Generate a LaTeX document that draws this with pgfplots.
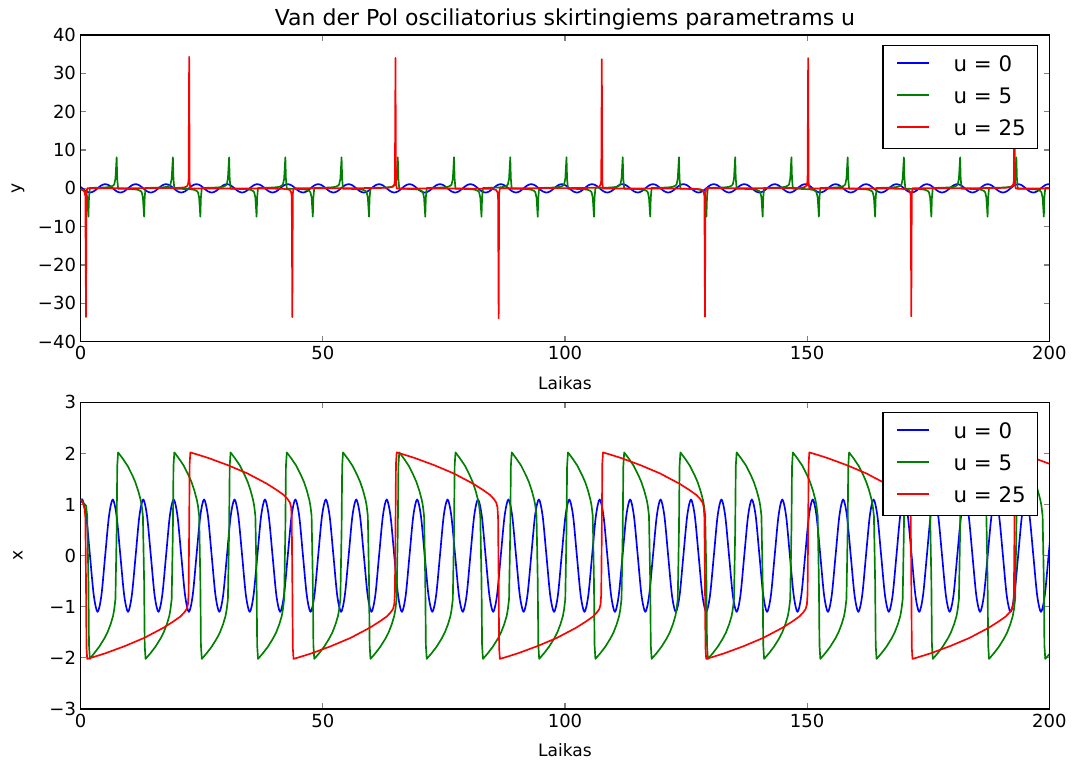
\documentclass[border=0pt]{standalone}
\usepackage{fontspec}
\setmainfont{DejaVu Sans}
\usepackage{pgfplots}
\usepackage{pgfplotstable}
\pgfplotsset{compat=1.18}

\definecolor{mplblue}{rgb}{0,0,1}
\definecolor{mplgreen}{rgb}{0,0.5,0}
\definecolor{mplred}{rgb}{1,0,0}

% u = 0: columns t, x, y
\pgfplotstableread[row sep=\\]{
t x y\\
0 1.033 0.377\\
0.35 1.1 0\\ 1.14 0.778 -0.778\\ 1.92 0 -1.1\\ 2.71 -0.778 -0.778\\ 3.49 -1.1 0\\ 4.28 -0.778 0.778\\ 5.06 0 1.1\\ 5.85 0.778 0.778\\
6.63 1.1 0\\ 7.42 0.778 -0.778\\ 8.20 0 -1.1\\ 8.99 -0.778 -0.778\\ 9.78 -1.1 0\\ 10.56 -0.778 0.778\\ 11.35 0 1.1\\ 12.13 0.778 0.778\\
12.92 1.1 0\\ 13.70 0.778 -0.778\\ 14.49 0 -1.1\\ 15.27 -0.778 -0.778\\ 16.06 -1.1 0\\ 16.84 -0.778 0.778\\ 17.63 0 1.1\\ 18.41 0.778 0.778\\
19.20 1.1 0\\ 19.99 0.778 -0.778\\ 20.77 0 -1.1\\ 21.56 -0.778 -0.778\\ 22.34 -1.1 0\\ 23.13 -0.778 0.778\\ 23.91 0 1.1\\ 24.70 0.778 0.778\\
25.48 1.1 0\\ 26.27 0.778 -0.778\\ 27.05 0 -1.1\\ 27.84 -0.778 -0.778\\ 28.63 -1.1 0\\ 29.41 -0.778 0.778\\ 30.20 0 1.1\\ 30.98 0.778 0.778\\
31.77 1.1 0\\ 32.55 0.778 -0.778\\ 33.34 0 -1.1\\ 34.12 -0.778 -0.778\\ 34.91 -1.1 0\\ 35.69 -0.778 0.778\\ 36.48 0 1.1\\ 37.26 0.778 0.778\\
38.05 1.1 0\\ 38.83 0.778 -0.778\\ 39.62 0 -1.1\\ 40.41 -0.778 -0.778\\ 41.19 -1.1 0\\ 41.98 -0.778 0.778\\ 42.76 0 1.1\\ 43.55 0.778 0.778\\
44.33 1.1 0\\ 45.12 0.778 -0.778\\ 45.90 0 -1.1\\ 46.69 -0.778 -0.778\\ 47.47 -1.1 0\\ 48.26 -0.778 0.778\\ 49.04 0 1.1\\ 49.83 0.778 0.778\\
50.62 1.1 0\\ 51.40 0.778 -0.778\\ 52.19 0 -1.1\\ 52.97 -0.778 -0.778\\ 53.76 -1.1 0\\ 54.54 -0.778 0.778\\ 55.33 0 1.1\\ 56.11 0.778 0.778\\
56.90 1.1 0\\ 57.68 0.778 -0.778\\ 58.47 0 -1.1\\ 59.26 -0.778 -0.778\\ 60.04 -1.1 0\\ 60.83 -0.778 0.778\\ 61.61 0 1.1\\ 62.40 0.778 0.778\\
63.18 1.1 0\\ 63.97 0.778 -0.778\\ 64.75 0 -1.1\\ 65.54 -0.778 -0.778\\ 66.32 -1.1 0\\ 67.11 -0.778 0.778\\ 67.89 0 1.1\\ 68.68 0.778 0.778\\
69.47 1.1 0\\ 70.25 0.778 -0.778\\ 71.04 0 -1.1\\ 71.82 -0.778 -0.778\\ 72.61 -1.1 0\\ 73.39 -0.778 0.778\\ 74.18 0 1.1\\ 74.96 0.778 0.778\\
75.75 1.1 0\\ 76.53 0.778 -0.778\\ 77.32 0 -1.1\\ 78.10 -0.778 -0.778\\ 78.89 -1.1 0\\ 79.68 -0.778 0.778\\ 80.46 0 1.1\\ 81.25 0.778 0.778\\
82.03 1.1 0\\ 82.82 0.778 -0.778\\ 83.60 0 -1.1\\ 84.39 -0.778 -0.778\\ 85.17 -1.1 0\\ 85.96 -0.778 0.778\\ 86.74 0 1.1\\ 87.53 0.778 0.778\\
88.32 1.1 0\\ 89.10 0.778 -0.778\\ 89.89 0 -1.1\\ 90.67 -0.778 -0.778\\ 91.46 -1.1 0\\ 92.24 -0.778 0.778\\ 93.03 0 1.1\\ 93.81 0.778 0.778\\
94.60 1.1 0\\ 95.38 0.778 -0.778\\ 96.17 0 -1.1\\ 96.95 -0.778 -0.778\\ 97.74 -1.1 0\\ 98.53 -0.778 0.778\\ 99.31 0 1.1\\ 100.10 0.778 0.778\\
100.88 1.1 0\\ 101.67 0.778 -0.778\\ 102.45 0 -1.1\\ 103.24 -0.778 -0.778\\ 104.02 -1.1 0\\ 104.81 -0.778 0.778\\ 105.59 0 1.1\\ 106.38 0.778 0.778\\
107.16 1.1 0\\ 107.95 0.778 -0.778\\ 108.74 0 -1.1\\ 109.52 -0.778 -0.778\\ 110.31 -1.1 0\\ 111.09 -0.778 0.778\\ 111.88 0 1.1\\ 112.66 0.778 0.778\\
113.45 1.1 0\\ 114.23 0.778 -0.778\\ 115.02 0 -1.1\\ 115.80 -0.778 -0.778\\ 116.59 -1.1 0\\ 117.37 -0.778 0.778\\ 118.16 0 1.1\\ 118.95 0.778 0.778\\
119.73 1.1 0\\ 120.52 0.778 -0.778\\ 121.30 0 -1.1\\ 122.09 -0.778 -0.778\\ 122.87 -1.1 0\\ 123.66 -0.778 0.778\\ 124.44 0 1.1\\ 125.23 0.778 0.778\\
126.01 1.1 0\\ 126.80 0.778 -0.778\\ 127.59 0 -1.1\\ 128.37 -0.778 -0.778\\ 129.16 -1.1 0\\ 129.94 -0.778 0.778\\ 130.73 0 1.1\\ 131.51 0.778 0.778\\
132.30 1.1 0\\ 133.08 0.778 -0.778\\ 133.87 0 -1.1\\ 134.65 -0.778 -0.778\\ 135.44 -1.1 0\\ 136.22 -0.778 0.778\\ 137.01 0 1.1\\ 137.80 0.778 0.778\\
138.58 1.1 0\\ 139.37 0.778 -0.778\\ 140.15 0 -1.1\\ 140.94 -0.778 -0.778\\ 141.72 -1.1 0\\ 142.51 -0.778 0.778\\ 143.29 0 1.1\\ 144.08 0.778 0.778\\
144.86 1.1 0\\ 145.65 0.778 -0.778\\ 146.43 0 -1.1\\ 147.22 -0.778 -0.778\\ 148.01 -1.1 0\\ 148.79 -0.778 0.778\\ 149.58 0 1.1\\ 150.36 0.778 0.778\\
151.15 1.1 0\\ 151.93 0.778 -0.778\\ 152.72 0 -1.1\\ 153.50 -0.778 -0.778\\ 154.29 -1.1 0\\ 155.07 -0.778 0.778\\ 155.86 0 1.1\\ 156.65 0.778 0.778\\
157.43 1.1 0\\ 158.22 0.778 -0.778\\ 159.00 0 -1.1\\ 159.79 -0.778 -0.778\\ 160.57 -1.1 0\\ 161.36 -0.778 0.778\\ 162.14 0 1.1\\ 162.93 0.778 0.778\\
163.71 1.1 0\\ 164.50 0.778 -0.778\\ 165.28 0 -1.1\\ 166.07 -0.778 -0.778\\ 166.86 -1.1 0\\ 167.64 -0.778 0.778\\ 168.43 0 1.1\\ 169.21 0.778 0.778\\
170.00 1.1 0\\ 170.78 0.778 -0.778\\ 171.57 0 -1.1\\ 172.35 -0.778 -0.778\\ 173.14 -1.1 0\\ 173.92 -0.778 0.778\\ 174.71 0 1.1\\ 175.49 0.778 0.778\\
176.28 1.1 0\\ 177.06 0.778 -0.778\\ 177.85 0 -1.1\\ 178.64 -0.778 -0.778\\ 179.42 -1.1 0\\ 180.21 -0.778 0.778\\ 180.99 0 1.1\\ 181.78 0.778 0.778\\
182.56 1.1 0\\ 183.35 0.778 -0.778\\ 184.13 0 -1.1\\ 184.92 -0.778 -0.778\\ 185.70 -1.1 0\\ 186.49 -0.778 0.778\\ 187.27 0 1.1\\ 188.06 0.778 0.778\\
188.85 1.1 0\\ 189.63 0.778 -0.778\\ 190.42 0 -1.1\\ 191.20 -0.778 -0.778\\ 191.99 -1.1 0\\ 192.77 -0.778 0.778\\ 193.56 0 1.1\\ 194.34 0.778 0.778\\
195.13 1.1 0\\ 195.91 0.778 -0.778\\ 196.70 0 -1.1\\ 197.49 -0.778 -0.778\\ 198.27 -1.1 0\\ 199.06 -0.778 0.778\\ 199.84 0 1.1\\ 200.63 0.778 0.778\\
}\blueT

% u = 5: columns t, x, y
\pgfplotstableread[row sep=\\]{
t x y\\
0 1.10 -0.30\\ 0.60 1.03 -0.50\\ 1.10 0.98 -1.00\\ 1.35 0.78 -2.40\\ 1.60 -0.50 -7.40\\ 1.72 -1.75 -2.40\\ 1.90 -2.02 0.10\\
2.79 -1.91 0.13\\ 3.84 -1.78 0.16\\ 4.89 -1.62 0.22\\ 5.54 -1.50 0.28\\ 6.19 -1.34 0.40\\ 6.69 -1.18 0.70\\ 6.93 -1.05 1.00\\ 7.18 -0.85 2.50\\ 7.43 0.50 8.10\\ 7.55 1.75 2.50\\ 7.73 2.02 -0.10\\ 8.68 1.90 -0.13\\ 9.68 1.76 -0.16\\ 10.68 1.57 -0.22\\ 11.28 1.44 -0.28\\ 11.88 1.27 -0.40\\ 12.38 1.09 -0.70\\ 12.60 0.98 -1.00\\ 12.85 0.78 -2.40\\ 13.10 -0.50 -7.40\\ 13.22 -1.75 -2.40\\ 13.40 -2.02 0.10\\
14.40 -1.91 0.13\\ 15.45 -1.78 0.16\\ 16.50 -1.62 0.22\\ 17.15 -1.50 0.28\\ 17.80 -1.34 0.40\\ 18.30 -1.18 0.70\\ 18.54 -1.05 1.00\\ 18.79 -0.85 2.50\\ 19.04 0.50 8.10\\ 19.16 1.75 2.50\\ 19.34 2.02 -0.10\\ 20.29 1.90 -0.13\\ 21.29 1.76 -0.16\\ 22.29 1.57 -0.22\\ 22.89 1.44 -0.28\\ 23.49 1.27 -0.40\\ 23.99 1.09 -0.70\\ 24.21 0.98 -1.00\\ 24.46 0.78 -2.40\\ 24.71 -0.50 -7.40\\ 24.83 -1.75 -2.40\\ 25.01 -2.02 0.10\\
26.01 -1.91 0.13\\ 27.06 -1.78 0.16\\ 28.11 -1.62 0.22\\ 28.76 -1.50 0.28\\ 29.41 -1.34 0.40\\ 29.91 -1.18 0.70\\ 30.15 -1.05 1.00\\ 30.40 -0.85 2.50\\ 30.65 0.50 8.10\\ 30.77 1.75 2.50\\ 30.95 2.02 -0.10\\ 31.90 1.90 -0.13\\ 32.90 1.76 -0.16\\ 33.90 1.57 -0.22\\ 34.50 1.44 -0.28\\ 35.10 1.27 -0.40\\ 35.60 1.09 -0.70\\ 35.82 0.98 -1.00\\ 36.07 0.78 -2.40\\ 36.32 -0.50 -7.40\\ 36.44 -1.75 -2.40\\ 36.62 -2.02 0.10\\
37.62 -1.91 0.13\\ 38.67 -1.78 0.16\\ 39.72 -1.62 0.22\\ 40.37 -1.50 0.28\\ 41.02 -1.34 0.40\\ 41.52 -1.18 0.70\\ 41.76 -1.05 1.00\\ 42.01 -0.85 2.50\\ 42.26 0.50 8.10\\ 42.38 1.75 2.50\\ 42.56 2.02 -0.10\\ 43.51 1.90 -0.13\\ 44.51 1.76 -0.16\\ 45.51 1.57 -0.22\\ 46.11 1.44 -0.28\\ 46.71 1.27 -0.40\\ 47.21 1.09 -0.70\\ 47.43 0.98 -1.00\\ 47.68 0.78 -2.40\\ 47.93 -0.50 -7.40\\ 48.05 -1.75 -2.40\\ 48.23 -2.02 0.10\\
49.23 -1.91 0.13\\ 50.28 -1.78 0.16\\ 51.33 -1.62 0.22\\ 51.98 -1.50 0.28\\ 52.63 -1.34 0.40\\ 53.13 -1.18 0.70\\ 53.37 -1.05 1.00\\ 53.62 -0.85 2.50\\ 53.87 0.50 8.10\\ 53.99 1.75 2.50\\ 54.17 2.02 -0.10\\ 55.12 1.90 -0.13\\ 56.12 1.76 -0.16\\ 57.12 1.57 -0.22\\ 57.72 1.44 -0.28\\ 58.32 1.27 -0.40\\ 58.82 1.09 -0.70\\ 59.04 0.98 -1.00\\ 59.29 0.78 -2.40\\ 59.54 -0.50 -7.40\\ 59.66 -1.75 -2.40\\ 59.84 -2.02 0.10\\
60.84 -1.91 0.13\\ 61.89 -1.78 0.16\\ 62.94 -1.62 0.22\\ 63.59 -1.50 0.28\\ 64.24 -1.34 0.40\\ 64.74 -1.18 0.70\\ 64.98 -1.05 1.00\\ 65.23 -0.85 2.50\\ 65.48 0.50 8.10\\ 65.60 1.75 2.50\\ 65.78 2.02 -0.10\\ 66.73 1.90 -0.13\\ 67.73 1.76 -0.16\\ 68.73 1.57 -0.22\\ 69.33 1.44 -0.28\\ 69.93 1.27 -0.40\\ 70.43 1.09 -0.70\\ 70.65 0.98 -1.00\\ 70.90 0.78 -2.40\\ 71.15 -0.50 -7.40\\ 71.27 -1.75 -2.40\\ 71.45 -2.02 0.10\\
72.45 -1.91 0.13\\ 73.50 -1.78 0.16\\ 74.55 -1.62 0.22\\ 75.20 -1.50 0.28\\ 75.85 -1.34 0.40\\ 76.35 -1.18 0.70\\ 76.59 -1.05 1.00\\ 76.84 -0.85 2.50\\ 77.09 0.50 8.10\\ 77.21 1.75 2.50\\ 77.39 2.02 -0.10\\ 78.34 1.90 -0.13\\ 79.34 1.76 -0.16\\ 80.34 1.57 -0.22\\ 80.94 1.44 -0.28\\ 81.54 1.27 -0.40\\ 82.04 1.09 -0.70\\ 82.26 0.98 -1.00\\ 82.51 0.78 -2.40\\ 82.76 -0.50 -7.40\\ 82.88 -1.75 -2.40\\ 83.06 -2.02 0.10\\
84.06 -1.91 0.13\\ 85.11 -1.78 0.16\\ 86.16 -1.62 0.22\\ 86.81 -1.50 0.28\\ 87.46 -1.34 0.40\\ 87.96 -1.18 0.70\\ 88.20 -1.05 1.00\\ 88.45 -0.85 2.50\\ 88.70 0.50 8.10\\ 88.82 1.75 2.50\\ 89.00 2.02 -0.10\\ 89.95 1.90 -0.13\\ 90.95 1.76 -0.16\\ 91.95 1.57 -0.22\\ 92.55 1.44 -0.28\\ 93.15 1.27 -0.40\\ 93.65 1.09 -0.70\\ 93.87 0.98 -1.00\\ 94.12 0.78 -2.40\\ 94.37 -0.50 -7.40\\ 94.49 -1.75 -2.40\\ 94.67 -2.02 0.10\\
95.67 -1.91 0.13\\ 96.72 -1.78 0.16\\ 97.77 -1.62 0.22\\ 98.42 -1.50 0.28\\ 99.07 -1.34 0.40\\ 99.57 -1.18 0.70\\ 99.81 -1.05 1.00\\ 100.06 -0.85 2.50\\ 100.31 0.50 8.10\\ 100.43 1.75 2.50\\ 100.61 2.02 -0.10\\ 101.56 1.90 -0.13\\ 102.56 1.76 -0.16\\ 103.56 1.57 -0.22\\ 104.16 1.44 -0.28\\ 104.76 1.27 -0.40\\ 105.26 1.09 -0.70\\ 105.48 0.98 -1.00\\ 105.73 0.78 -2.40\\ 105.98 -0.50 -7.40\\ 106.10 -1.75 -2.40\\ 106.28 -2.02 0.10\\
107.28 -1.91 0.13\\ 108.33 -1.78 0.16\\ 109.38 -1.62 0.22\\ 110.03 -1.50 0.28\\ 110.68 -1.34 0.40\\ 111.18 -1.18 0.70\\ 111.42 -1.05 1.00\\ 111.67 -0.85 2.50\\ 111.92 0.50 8.10\\ 112.04 1.75 2.50\\ 112.22 2.02 -0.10\\ 113.17 1.90 -0.13\\ 114.17 1.76 -0.16\\ 115.17 1.57 -0.22\\ 115.77 1.44 -0.28\\ 116.37 1.27 -0.40\\ 116.87 1.09 -0.70\\ 117.09 0.98 -1.00\\ 117.34 0.78 -2.40\\ 117.59 -0.50 -7.40\\ 117.71 -1.75 -2.40\\ 117.89 -2.02 0.10\\
118.89 -1.91 0.13\\ 119.94 -1.78 0.16\\ 120.99 -1.62 0.22\\ 121.64 -1.50 0.28\\ 122.29 -1.34 0.40\\ 122.79 -1.18 0.70\\ 123.03 -1.05 1.00\\ 123.28 -0.85 2.50\\ 123.53 0.50 8.10\\ 123.65 1.75 2.50\\ 123.83 2.02 -0.10\\ 124.78 1.90 -0.13\\ 125.78 1.76 -0.16\\ 126.78 1.57 -0.22\\ 127.38 1.44 -0.28\\ 127.98 1.27 -0.40\\ 128.48 1.09 -0.70\\ 128.70 0.98 -1.00\\ 128.95 0.78 -2.40\\ 129.20 -0.50 -7.40\\ 129.32 -1.75 -2.40\\ 129.50 -2.02 0.10\\
130.50 -1.91 0.13\\ 131.55 -1.78 0.16\\ 132.60 -1.62 0.22\\ 133.25 -1.50 0.28\\ 133.90 -1.34 0.40\\ 134.40 -1.18 0.70\\ 134.64 -1.05 1.00\\ 134.89 -0.85 2.50\\ 135.14 0.50 8.10\\ 135.26 1.75 2.50\\ 135.44 2.02 -0.10\\ 136.39 1.90 -0.13\\ 137.39 1.76 -0.16\\ 138.39 1.57 -0.22\\ 138.99 1.44 -0.28\\ 139.59 1.27 -0.40\\ 140.09 1.09 -0.70\\ 140.31 0.98 -1.00\\ 140.56 0.78 -2.40\\ 140.81 -0.50 -7.40\\ 140.93 -1.75 -2.40\\ 141.11 -2.02 0.10\\
142.11 -1.91 0.13\\ 143.16 -1.78 0.16\\ 144.21 -1.62 0.22\\ 144.86 -1.50 0.28\\ 145.51 -1.34 0.40\\ 146.01 -1.18 0.70\\ 146.25 -1.05 1.00\\ 146.50 -0.85 2.50\\ 146.75 0.50 8.10\\ 146.87 1.75 2.50\\ 147.05 2.02 -0.10\\ 148.00 1.90 -0.13\\ 149.00 1.76 -0.16\\ 150.00 1.57 -0.22\\ 150.60 1.44 -0.28\\ 151.20 1.27 -0.40\\ 151.70 1.09 -0.70\\ 151.92 0.98 -1.00\\ 152.17 0.78 -2.40\\ 152.42 -0.50 -7.40\\ 152.54 -1.75 -2.40\\ 152.72 -2.02 0.10\\
153.72 -1.91 0.13\\ 154.77 -1.78 0.16\\ 155.82 -1.62 0.22\\ 156.47 -1.50 0.28\\ 157.12 -1.34 0.40\\ 157.62 -1.18 0.70\\ 157.86 -1.05 1.00\\ 158.11 -0.85 2.50\\ 158.36 0.50 8.10\\ 158.48 1.75 2.50\\ 158.66 2.02 -0.10\\ 159.61 1.90 -0.13\\ 160.61 1.76 -0.16\\ 161.61 1.57 -0.22\\ 162.21 1.44 -0.28\\ 162.81 1.27 -0.40\\ 163.31 1.09 -0.70\\ 163.53 0.98 -1.00\\ 163.78 0.78 -2.40\\ 164.03 -0.50 -7.40\\ 164.15 -1.75 -2.40\\ 164.33 -2.02 0.10\\
165.33 -1.91 0.13\\ 166.38 -1.78 0.16\\ 167.43 -1.62 0.22\\ 168.08 -1.50 0.28\\ 168.73 -1.34 0.40\\ 169.23 -1.18 0.70\\ 169.47 -1.05 1.00\\ 169.72 -0.85 2.50\\ 169.97 0.50 8.10\\ 170.09 1.75 2.50\\ 170.27 2.02 -0.10\\ 171.22 1.90 -0.13\\ 172.22 1.76 -0.16\\ 173.22 1.57 -0.22\\ 173.82 1.44 -0.28\\ 174.42 1.27 -0.40\\ 174.92 1.09 -0.70\\ 175.14 0.98 -1.00\\ 175.39 0.78 -2.40\\ 175.64 -0.50 -7.40\\ 175.76 -1.75 -2.40\\ 175.94 -2.02 0.10\\
176.94 -1.91 0.13\\ 177.99 -1.78 0.16\\ 179.04 -1.62 0.22\\ 179.69 -1.50 0.28\\ 180.34 -1.34 0.40\\ 180.84 -1.18 0.70\\ 181.08 -1.05 1.00\\ 181.33 -0.85 2.50\\ 181.58 0.50 8.10\\ 181.70 1.75 2.50\\ 181.88 2.02 -0.10\\ 182.83 1.90 -0.13\\ 183.83 1.76 -0.16\\ 184.83 1.57 -0.22\\ 185.43 1.44 -0.28\\ 186.03 1.27 -0.40\\ 186.53 1.09 -0.70\\ 186.75 0.98 -1.00\\ 187.00 0.78 -2.40\\ 187.25 -0.50 -7.40\\ 187.37 -1.75 -2.40\\ 187.55 -2.02 0.10\\
188.55 -1.91 0.13\\ 189.60 -1.78 0.16\\ 190.65 -1.62 0.22\\ 191.30 -1.50 0.28\\ 191.95 -1.34 0.40\\ 192.45 -1.18 0.70\\ 192.69 -1.05 1.00\\ 192.94 -0.85 2.50\\ 193.19 0.50 8.10\\ 193.31 1.75 2.50\\ 193.49 2.02 -0.10\\ 194.44 1.90 -0.13\\ 195.44 1.76 -0.16\\ 196.44 1.57 -0.22\\ 197.04 1.44 -0.28\\ 197.64 1.27 -0.40\\ 198.14 1.09 -0.70\\ 198.36 0.98 -1.00\\ 198.61 0.78 -2.40\\ 198.86 -0.50 -7.40\\ 198.98 -1.75 -2.40\\ 199.16 -2.02 0.10\\
200.16 -1.91 0.13\\
}\greenT

% u = 25: columns t, x, y
\pgfplotstableread[row sep=\\]{
t x y\\
0 1.10 -0.30\\ 0.50 1.02 -0.40\\ 0.80 0.92 -1.00\\ 0.97 0.75 -2.00\\
1.10 -0.50 -33.6\\ 1.20 -1.80 -1.50\\ 1.35 -2.02 0.03\\ 3.1 -1.97 0.03\\ 5.1 -1.91 0.03\\ 7.1 -1.84 0.035\\ 9.1 -1.77 0.04\\ 11.1 -1.69 0.045\\ 13.1 -1.61 0.05\\ 15.1 -1.51 0.06\\ 17.1 -1.41 0.07\\ 19.1 -1.29 0.09\\ 20.6 -1.19 0.15\\ 21.4 -1.11 0.25\\ 21.9 -1.04 0.45\\ 22.15 -0.95 1.0\\ 22.28 -0.75 2.0\\
22.40 0.50 34.3\\ 22.50 1.80 1.50\\ 22.65 2.02 -0.03\\ 24.4 1.97 -0.03\\ 26.4 1.91 -0.03\\ 28.4 1.84 -0.035\\ 30.4 1.77 -0.04\\ 32.4 1.69 -0.045\\ 34.4 1.61 -0.05\\ 36.4 1.51 -0.06\\ 38.4 1.41 -0.07\\ 40.4 1.29 -0.09\\ 41.9 1.19 -0.15\\ 42.7 1.11 -0.25\\ 43.2 1.04 -0.45\\ 43.45 0.95 -1.0\\ 43.58 0.75 -2.0\\
43.70 -0.50 -33.6\\ 43.80 -1.80 -1.50\\ 43.95 -2.02 0.03\\ 45.7 -1.97 0.03\\ 47.7 -1.91 0.03\\ 49.7 -1.84 0.035\\ 51.7 -1.77 0.04\\ 53.7 -1.69 0.045\\ 55.7 -1.61 0.05\\ 57.7 -1.51 0.06\\ 59.7 -1.41 0.07\\ 61.7 -1.29 0.09\\ 63.2 -1.19 0.15\\ 64.0 -1.11 0.25\\ 64.5 -1.04 0.45\\ 64.75 -0.95 1.0\\ 64.88 -0.75 2.0\\
65.00 0.50 34.0\\ 65.10 1.80 1.50\\ 65.25 2.02 -0.03\\ 67.0 1.97 -0.03\\ 69.0 1.91 -0.03\\ 71.0 1.84 -0.035\\ 73.0 1.77 -0.04\\ 75.0 1.69 -0.045\\ 77.0 1.61 -0.05\\ 79.0 1.51 -0.06\\ 81.0 1.41 -0.07\\ 83.0 1.29 -0.09\\ 84.5 1.19 -0.15\\ 85.3 1.11 -0.25\\ 85.8 1.04 -0.45\\ 86.05 0.95 -1.0\\ 86.18 0.75 -2.0\\
86.30 -0.50 -33.9\\ 86.40 -1.80 -1.50\\ 86.55 -2.02 0.03\\ 88.3 -1.97 0.03\\ 90.3 -1.91 0.03\\ 92.3 -1.84 0.035\\ 94.3 -1.77 0.04\\ 96.3 -1.69 0.045\\ 98.3 -1.61 0.05\\ 100.3 -1.51 0.06\\ 102.3 -1.41 0.07\\ 104.3 -1.29 0.09\\ 105.8 -1.19 0.15\\ 106.6 -1.11 0.25\\ 107.1 -1.04 0.45\\ 107.35 -0.95 1.0\\ 107.48 -0.75 2.0\\
107.60 0.50 33.7\\ 107.70 1.80 1.50\\ 107.85 2.02 -0.03\\ 109.6 1.97 -0.03\\ 111.6 1.91 -0.03\\ 113.6 1.84 -0.035\\ 115.6 1.77 -0.04\\ 117.6 1.69 -0.045\\ 119.6 1.61 -0.05\\ 121.6 1.51 -0.06\\ 123.6 1.41 -0.07\\ 125.6 1.29 -0.09\\ 127.1 1.19 -0.15\\ 127.9 1.11 -0.25\\ 128.4 1.04 -0.45\\ 128.65 0.95 -1.0\\ 128.78 0.75 -2.0\\
128.90 -0.50 -33.5\\ 129.00 -1.80 -1.50\\ 129.15 -2.02 0.03\\ 130.9 -1.97 0.03\\ 132.9 -1.91 0.03\\ 134.9 -1.84 0.035\\ 136.9 -1.77 0.04\\ 138.9 -1.69 0.045\\ 140.9 -1.61 0.05\\ 142.9 -1.51 0.06\\ 144.9 -1.41 0.07\\ 146.9 -1.29 0.09\\ 148.4 -1.19 0.15\\ 149.2 -1.11 0.25\\ 149.7 -1.04 0.45\\ 149.95 -0.95 1.0\\ 150.08 -0.75 2.0\\
150.20 0.50 34.0\\ 150.30 1.80 1.50\\ 150.45 2.02 -0.03\\ 152.2 1.97 -0.03\\ 154.2 1.91 -0.03\\ 156.2 1.84 -0.035\\ 158.2 1.77 -0.04\\ 160.2 1.69 -0.045\\ 162.2 1.61 -0.05\\ 164.2 1.51 -0.06\\ 166.2 1.41 -0.07\\ 168.2 1.29 -0.09\\ 169.7 1.19 -0.15\\ 170.5 1.11 -0.25\\ 171.0 1.04 -0.45\\ 171.25 0.95 -1.0\\ 171.38 0.75 -2.0\\
171.50 -0.50 -33.4\\ 171.60 -1.80 -1.50\\ 171.75 -2.02 0.03\\ 173.5 -1.97 0.03\\ 175.5 -1.91 0.03\\ 177.5 -1.84 0.035\\ 179.5 -1.77 0.04\\ 181.5 -1.69 0.045\\ 183.5 -1.61 0.05\\ 185.5 -1.51 0.06\\ 187.5 -1.41 0.07\\ 189.5 -1.29 0.09\\ 191.0 -1.19 0.15\\ 191.8 -1.11 0.25\\ 192.3 -1.04 0.45\\ 192.55 -0.95 1.0\\ 192.68 -0.75 2.0\\
192.80 0.50 34.3\\ 192.90 1.80 1.50\\ 193.05 2.02 -0.03\\ 194.8 1.97 -0.03\\ 196.8 1.91 -0.03\\ 198.8 1.84 -0.035\\ 200.8 1.77 -0.04\\
}\redT

% legend body: an empty column for the keys, then the labels
\newcommand\keybox{%
  \fontsize{16}{24}\selectfont
  \begin{tabular}{@{\hspace{11pt}}l@{\hspace{18pt}}l@{\hspace{9pt}}}
  \hspace{24pt} & u = 0\\
  \hspace{24pt} & u = 5\\
  \hspace{24pt} & u = 25
  \end{tabular}}

% legend box with its three coloured keys, placed at the upper right
\newcommand\keylegend[1]{%
  \node[draw=black, line width=0.8pt, fill=white, inner xsep=0pt, inner ysep=2.5pt,
    anchor=north east] (#1) at (rel axis cs:0.9886,0.9674) {\keybox};
  \draw[mplblue, line width=1.25pt] ([xshift=11pt, yshift=-13.45pt]#1.north west) -- ++(24pt,0pt);
  \draw[mplgreen, line width=1.25pt] ([xshift=11pt, yshift=-37.45pt]#1.north west) -- ++(24pt,0pt);
  \draw[mplred, line width=1.25pt] ([xshift=11pt, yshift=-61.45pt]#1.north west) -- ++(24pt,0pt);
}

\pgfplotsset{
  vdp/.style={
    scale only axis, width=726.5pt, height=230pt,
    xmin=0, xmax=200, xtick={0,50,100,150,200},
    enlargelimits=false,
    tick align=inside, major tick length=4.2pt,
    axis line style={line width=1pt},
    tick style={line width=0.8pt},
    ticklabel style={font=\fontsize{13.5}{16}\selectfont},
    /pgf/number format/assume math mode=true,
    label style={font=\fontsize{12.8}{15}\selectfont},
    xlabel style={at={(axis description cs:0.5,-0.135)}, anchor=center},
    ylabel style={at={(axis description cs:-0.0647,0.5)}, anchor=center},
    every axis plot/.append style={line width=1.25pt, line join=round},
  },
}

\begin{document}
\begin{tikzpicture}
\useasboundingbox (0,0) rectangle (806.25pt,575.25pt);

% upper panel: y(t)
\begin{axis}[vdp, at={(60.5pt,319pt)}, anchor=south west,
  ymin=-40, ymax=40, ytick={-40,-30,...,40},
  yticklabels={−40,−30,−20,−10,0,10,20,30,40},
  title={Van der Pol osciliatorius skirtingiems parametrams u},
  title style={font=\fontsize{16.5}{19}\selectfont, at={(0.5,1)}, anchor=base, yshift=1.5pt},
  xlabel={Laikas}, ylabel={y}]
\addplot[mplblue, smooth] table[x=t, y=y] {\blueT};
\addplot[mplgreen] table[x=t, y=y] {\greenT};
\addplot[mplred] table[x=t, y=y] {\redT};
\keylegend{legtop}
\end{axis}

% lower panel: x(t)
\begin{axis}[vdp, at={(60.5pt,43.5pt)}, anchor=south west,
  ymin=-3, ymax=3, ytick={-3,-2,...,3},
  yticklabels={−3,−2,−1,0,1,2,3},
  xlabel={Laikas}, ylabel={x}]
\addplot[mplblue, smooth] table[x=t, y=x] {\blueT};
\addplot[mplgreen] table[x=t, y=x] {\greenT};
\addplot[mplred] table[x=t, y=x] {\redT};
\keylegend{legbot}
\end{axis}
\end{tikzpicture}
\end{document}
